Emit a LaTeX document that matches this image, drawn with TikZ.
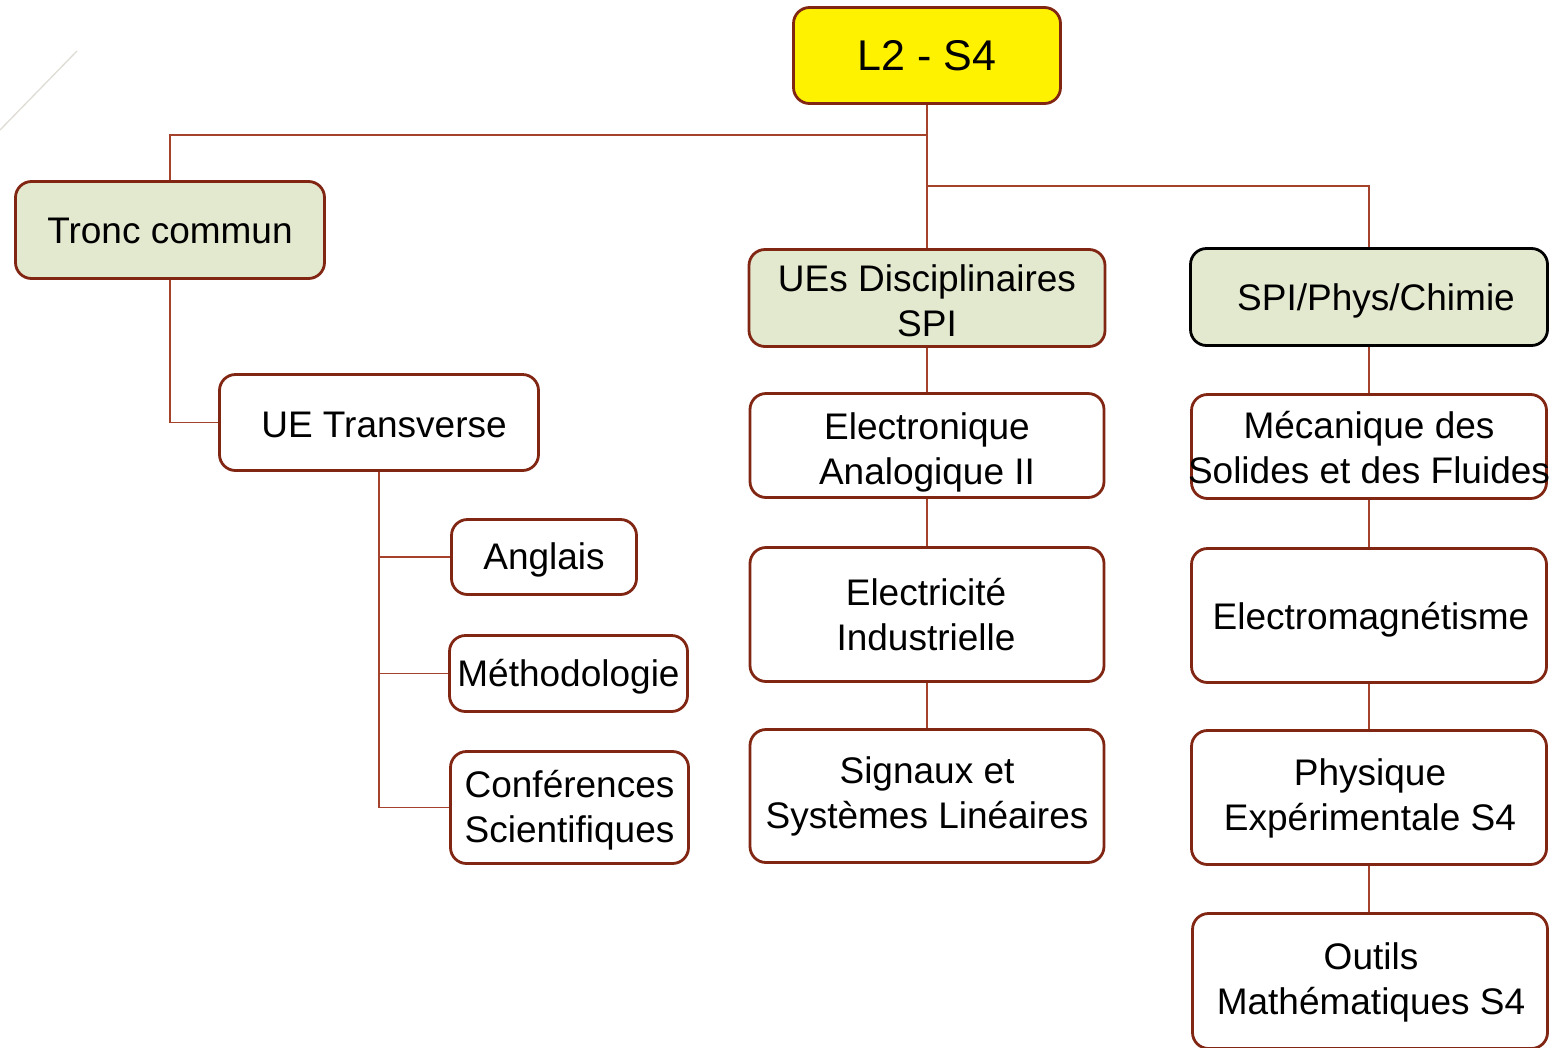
\documentclass[tikz,border=0pt]{standalone}
\usepackage{fontspec}
\setmainfont{Liberation Sans}
\definecolor{edgered}{RGB}{130,38,20}
\definecolor{linkred}{RGB}{165,66,44}
\definecolor{sage}{RGB}{227,233,207}
\definecolor{hairline}{RGB}{222,220,212}
\tikzset{
  box/.style={draw=edgered, line width=2.8pt, rounded corners=16pt, fill=white, inner sep=0pt},
  headbox/.style={box, fill=sage},
  lbl/.style={inner sep=0pt, align=center, font=\fontsize{37}{45}\selectfont},
  conn/.style={draw=linkred, line width=1.8pt}
}
\begin{document}
\begin{tikzpicture}[x=1pt, y=-1pt]
\useasboundingbox (0,0) rectangle (1552,1047);
\fill[white] (0,0) rectangle (1552,1047);
% thin decorative stroke in the upper left corner
\draw[hairline, line width=1.3pt] (77,51) -- (0,130);

% root
\node[box, fill=yellow, minimum width=267pt, minimum height=96pt] (root) at (927,55.5) {};
\node[lbl, font=\fontsize{43}{50}\selectfont] (root-t) at (root.center) {L2 - S4};

% left branch
\node[headbox, minimum width=309pt, minimum height=97pt] (tronc) at (170,230) {};
\node[lbl] (tronc-t) at ([yshift=-1pt]tronc.center) {Tronc commun};
\node[box, minimum width=319pt, minimum height=96pt] (uet) at (379,422.5) {};
\node[lbl] (uet-t) at ([xshift=5pt,yshift=-2pt]uet.center) {UE Transverse};
\node[box, minimum width=185pt, minimum height=75pt] (angl) at (544,557) {};
\node[lbl] (angl-t) at ([yshift=-3pt]angl.center) {Anglais};
\node[box, minimum width=238pt, minimum height=76pt] (meth) at (568.5,673.5) {};
\node[lbl] (meth-t) at ([yshift=-3pt]meth.center) {Méthodologie};
\node[box, minimum width=238pt, minimum height=112pt] (conf) at (569.5,807.5) {};
\node[lbl] (conf-t) at ([yshift=-3pt]conf.center) {Conférences\\Scientifiques};

% middle branch
\node[headbox, minimum width=356pt, minimum height=97pt] (disc) at (927,298) {};
\node[lbl] (disc-t) at ([yshift=-3pt]disc.center) {UEs Disciplinaires\\SPI};
\node[box, minimum width=354pt, minimum height=104pt] (elec) at (927,445.5) {};
\node[lbl] (elec-t) at ([yshift=-7pt]elec.center) {Electronique\\Analogique II};
\node[box, minimum width=354pt, minimum height=134pt] (elind) at (927,614.5) {};
\node[lbl] (elind-t) at ([xshift=-1pt]elind.center) {Electricité\\Industrielle};
\node[box, minimum width=354pt, minimum height=133pt] (sig) at (927,796) {};
\node[lbl] (sig-t) at (sig.center) {Signaux et\\Systèmes Linéaires};

% right branch
\node[headbox, draw=black, minimum width=357pt, minimum height=97pt] (spi) at (1369,297) {};
\node[lbl] (spi-t) at ([xshift=7pt,yshift=-4pt]spi.center) {SPI/Phys/Chimie};
\node[box, minimum width=355pt, minimum height=104pt] (meca) at (1369,446.5) {};
\node[lbl] (meca-t) at ([yshift=-1pt]meca.center) {Mécanique des\\Solides et des Fluides};
\node[box, minimum width=355pt, minimum height=134pt] (emag) at (1369,615.5) {};
\node[lbl] (emag-t) at ([xshift=2pt,yshift=-4pt]emag.center) {Electromagnétisme};
\node[box, minimum width=355pt, minimum height=134pt] (phys) at (1369,797.5) {};
\node[lbl] (phys-t) at ([xshift=1pt,yshift=-1pt]phys.center) {Physique\\Expérimentale S4};
\node[box, minimum width=355pt, minimum height=135pt] (outils) at (1370,981) {};
\node[lbl] (outils-t) at ([xshift=1pt,yshift=-1pt]outils.center) {Outils\\Mathématiques S4};

% junctions on the trunk
\coordinate (jleft) at (927,135);
\coordinate (jright) at (927,186);

% connectors
\draw[conn] (root.south) -- (disc.north);
\draw[conn] (tronc.north) |- (jleft);
\draw[conn] (spi.north) |- (jright);

\draw[conn] (tronc.south) |- (uet.west);
\draw[conn] (uet.south) |- (angl.west);
\draw[conn] (uet.south) |- (meth.west);
\draw[conn] (uet.south) |- (conf.west);

\draw[conn] (disc.south) -- (elec.north);
\draw[conn] (elec.south) -- (elind.north);
\draw[conn] (elind.south) -- (sig.north);

\draw[conn] (spi.south) -- (meca.north);
\draw[conn] (meca.south) -- (emag.north);
\draw[conn] (emag.south) -- (phys.north);
\draw[conn] (phys.south) -- (phys.south |- outils.north);
\end{tikzpicture}
\end{document}
